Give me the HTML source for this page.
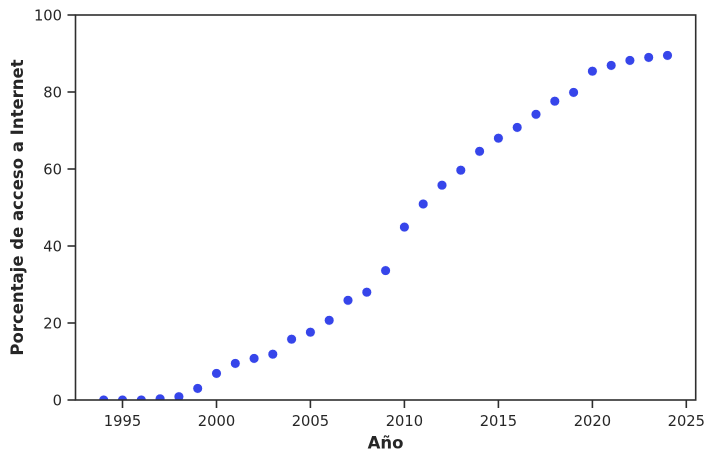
<!DOCTYPE html>
<html><head><meta charset="utf-8"><style>
html,body{margin:0;padding:0;background:#fff;}
svg{display:block;font-family:"DejaVu Sans","Liberation Sans",sans-serif;}
</style></head><body>
<svg width="715" height="462" viewBox="0 0 715 462" xmlns="http://www.w3.org/2000/svg">
<defs><clipPath id="c"><rect x="75.5" y="15" width="620.2" height="385"/></clipPath></defs>
<rect width="715" height="462" fill="#fff"/>
<g clip-path="url(#c)" fill="#3645ea" stroke="#fff" stroke-width="0.5">
<circle cx="103.7" cy="400" r="4.8"/>
<circle cx="122.5" cy="400" r="4.8"/>
<circle cx="141.3" cy="400" r="4.8"/>
<circle cx="160.1" cy="398.8" r="4.8"/>
<circle cx="178.9" cy="396.7" r="4.8"/>
<circle cx="197.7" cy="388.4" r="4.8"/>
<circle cx="216.5" cy="373.4" r="4.8"/>
<circle cx="235.3" cy="363.4" r="4.8"/>
<circle cx="254.1" cy="358.4" r="4.8"/>
<circle cx="272.8" cy="354.2" r="4.8"/>
<circle cx="291.6" cy="339.2" r="4.8"/>
<circle cx="310.4" cy="332.2" r="4.8"/>
<circle cx="329.2" cy="320.3" r="4.8"/>
<circle cx="348.0" cy="300.3" r="4.8"/>
<circle cx="366.8" cy="292.2" r="4.8"/>
<circle cx="385.6" cy="270.6" r="4.8"/>
<circle cx="404.4" cy="227.1" r="4.8"/>
<circle cx="423.2" cy="204.0" r="4.8"/>
<circle cx="442.0" cy="185.2" r="4.8"/>
<circle cx="460.8" cy="170.2" r="4.8"/>
<circle cx="479.6" cy="151.3" r="4.8"/>
<circle cx="498.4" cy="138.2" r="4.8"/>
<circle cx="517.2" cy="127.4" r="4.8"/>
<circle cx="536.0" cy="114.3" r="4.8"/>
<circle cx="554.8" cy="101.2" r="4.8"/>
<circle cx="573.6" cy="92.4" r="4.8"/>
<circle cx="592.4" cy="71.2" r="4.8"/>
<circle cx="611.2" cy="65.4" r="4.8"/>
<circle cx="629.9" cy="60.4" r="4.8"/>
<circle cx="648.7" cy="57.4" r="4.8"/>
<circle cx="667.5" cy="55.4" r="4.8"/>
</g>
<rect x="75.5" y="15" width="620.2" height="385" fill="none" stroke="#2e2e2e" stroke-width="1.6"/>
<g stroke="#2e2e2e" stroke-width="1.6">
<line x1="122.5" y1="400" x2="122.5" y2="408"/>
<line x1="216.5" y1="400" x2="216.5" y2="408"/>
<line x1="310.4" y1="400" x2="310.4" y2="408"/>
<line x1="404.4" y1="400" x2="404.4" y2="408"/>
<line x1="498.4" y1="400" x2="498.4" y2="408"/>
<line x1="592.4" y1="400" x2="592.4" y2="408"/>
<line x1="686.3" y1="400" x2="686.3" y2="408"/>
<line x1="67.5" y1="400" x2="75.5" y2="400"/>
<line x1="67.5" y1="323" x2="75.5" y2="323"/>
<line x1="67.5" y1="246" x2="75.5" y2="246"/>
<line x1="67.5" y1="169" x2="75.5" y2="169"/>
<line x1="67.5" y1="92" x2="75.5" y2="92"/>
<line x1="67.5" y1="15" x2="75.5" y2="15"/>
</g>
<g fill="#262626" font-size="14.7" text-anchor="middle">
<text x="122.5" y="426">1995</text>
<text x="216.5" y="426">2000</text>
<text x="310.4" y="426">2005</text>
<text x="404.4" y="426">2010</text>
<text x="498.4" y="426">2015</text>
<text x="592.4" y="426">2020</text>
<text x="686.3" y="426">2025</text>
</g>
<g fill="#262626" font-size="14.7" text-anchor="end">
<text x="62" y="405.5">0</text>
<text x="62" y="328.5">20</text>
<text x="62" y="251.5">40</text>
<text x="62" y="174.5">60</text>
<text x="62" y="97.5">80</text>
<text x="62" y="20.5">100</text>
</g>
<text x="385.6" y="448.5" fill="#262626" font-size="16.5" font-weight="bold" text-anchor="middle">Año</text>
<text x="0" y="0" transform="translate(23,207.5) rotate(-90)" fill="#262626" font-size="16.5" font-weight="bold" text-anchor="middle">Porcentaje de acceso a Internet</text>
</svg>
</body></html>
